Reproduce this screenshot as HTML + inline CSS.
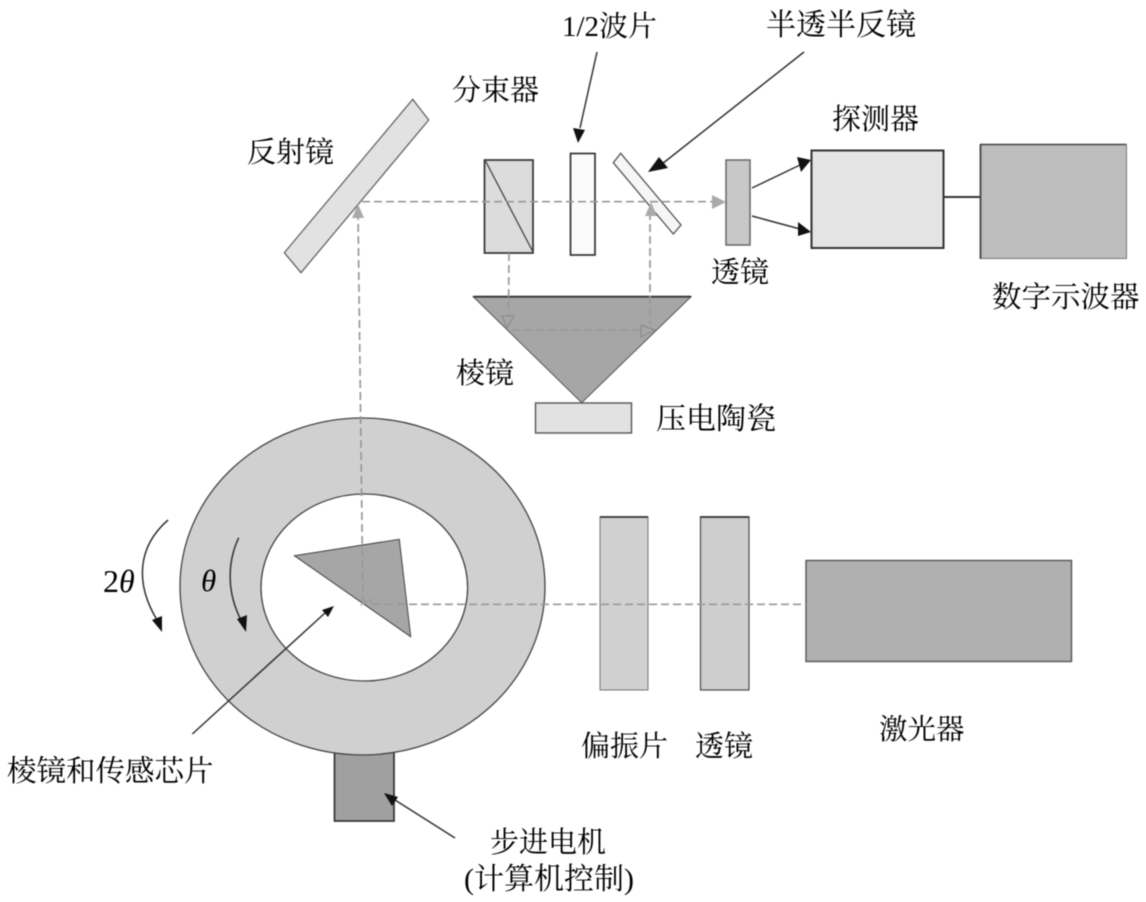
<!DOCTYPE html>
<html><head><meta charset="utf-8"><style>
html,body{margin:0;padding:0;background:#fff}
svg{display:block;filter:blur(0.6px)}
text{font-family:"Liberation Serif","Noto Serif CJK SC",serif;font-size:29px;fill:#000}
.l{font-size:30px}
.m{font-size:29.5px}
</style></head><body>
<svg width="1146" height="902" viewBox="0 0 1146 902" xmlns="http://www.w3.org/2000/svg">
<!-- top optics -->
<polygon points="412.7,99.3 428.7,120 301,272.7 284.3,252.7" fill="#e2e2e2" stroke="#666" stroke-width="1.3"/>
<rect x="484.5" y="160" width="48.5" height="93" fill="#dcdcdc" stroke="#333" stroke-width="1.7"/>
<line x1="485" y1="160" x2="533" y2="252" stroke="#444" stroke-width="1.3"/>
<rect x="570.5" y="153.5" width="24.5" height="101.5" fill="#fbfbfb" stroke="#333" stroke-width="1.7"/>
<polygon points="620.7,153.3 613.3,162.7 673.3,234 681,225" fill="#f6f6f6" stroke="#555" stroke-width="1.3"/>
<polygon points="473.3,296.7 691,296.7 581.7,402.7" fill="#a6a6a6" stroke="#555" stroke-width="1"/>
<line x1="473.3" y1="296.7" x2="691" y2="296.7" stroke="#333" stroke-width="1.8"/>
<rect x="535.5" y="403" width="96" height="30" fill="#e2e2e2" stroke="#555" stroke-width="1.4"/>
<rect x="726" y="160" width="24" height="85" fill="#c8c8c8" stroke="#666" stroke-width="1.5"/>
<rect x="811.5" y="150.5" width="132" height="97.5" fill="#e4e4e4" stroke="#333" stroke-width="2"/>
<line x1="943" y1="197" x2="980" y2="197" stroke="#333" stroke-width="2"/>
<rect x="980.5" y="144.5" width="146" height="114" fill="#bdbdbd" stroke="#777" stroke-width="1"/>
<line x1="980.5" y1="144" x2="980.5" y2="259" stroke="#444" stroke-width="1.8"/>
<line x1="980" y1="144.5" x2="1126" y2="144.5" stroke="#444" stroke-width="1.6"/>
<!-- rotation stage -->
<rect x="334.5" y="752" width="59.5" height="69" fill="#a0a0a0" stroke="#333" stroke-width="1.7"/>
<ellipse cx="362.5" cy="586.5" rx="182.5" ry="168.5" fill="#d0d0d0" stroke="#444" stroke-width="1.3"/>
<ellipse cx="364.3" cy="587.5" rx="103.3" ry="93.5" fill="#fff" stroke="#444" stroke-width="1.3"/>
<polygon points="294.3,555.7 399.3,539.3 410.7,636.7" fill="#a6a6a6" stroke="#444" stroke-width="1"/>
<!-- lower optics -->
<rect x="600" y="517" width="48" height="173" fill="#d0d0d0" stroke="#777" stroke-width="1"/>
<line x1="600" y1="517" x2="648" y2="517" stroke="#333" stroke-width="1.7"/>
<rect x="700.5" y="517" width="48.5" height="173" fill="#cecece" stroke="#555" stroke-width="1.3"/>
<line x1="700" y1="517" x2="749" y2="517" stroke="#333" stroke-width="1.7"/>
<rect x="806" y="560.5" width="265.5" height="101" fill="#b0b0b0" stroke="#555" stroke-width="1.4"/>
<!-- dashed beams -->
<g fill="none" stroke="#999" stroke-width="1.7" stroke-dasharray="8 4">
<line x1="362" y1="201.7" x2="715" y2="201.7"/>
<line x1="358" y1="212" x2="363" y2="604"/>
<line x1="373" y1="604.3" x2="806" y2="604.3"/>
<line x1="509" y1="253" x2="508.5" y2="318"/>
<line x1="650" y1="212" x2="650" y2="325"/>
<line x1="512" y1="330" x2="642" y2="330"/>
</g>
<polygon points="358,204 352,218 364,218" fill="#aaa"/>
<polygon points="651,202 645,216 657,216" fill="#aaa"/>
<polygon points="726,202 712,195 712,209" fill="#aaa"/>
<polygon points="507,328 502,316 514,316" fill="#a6a6a6" stroke="#888"/>
<polygon points="655,330 641,325 641,337" fill="#a6a6a6" stroke="#888"/>
<polyline points="361,606 363,600 367,602 371,599 372,604" fill="none" stroke="#999" stroke-width="1"/>
<!-- black arrows -->
<g stroke="#333" stroke-width="1.5" fill="none">
<line x1="597" y1="52" x2="580" y2="128"/>
<line x1="804" y1="52" x2="662" y2="164"/>
<line x1="752" y1="188" x2="800" y2="165"/>
<line x1="752" y1="216" x2="800" y2="229"/>
<line x1="192.3" y1="734" x2="325" y2="613"/>
<line x1="455" y1="838" x2="395" y2="800"/>
<path d="M168,520 C136,548 136,585 157,620"/>
<path d="M238.7,537.7 C226,565 228,595 241,620"/>
</g>
<g fill="#111">
<polygon points="578,143 573,128 585,130"/>
<polygon points="648,172 659,157 668,168"/>
<polygon points="811,160 797,157 801,172"/>
<polygon points="811,232 798,222 798,236"/>
<polygon points="334,606 322,610 328,617"/>
<polygon points="384,793 398,797 392,806"/>
<polygon points="162,632 152,620 162,616"/>
<polygon points="246,632 237,619 247,615"/>
</g>
<!-- labels -->
<text x="562" y="36">1/2波片</text>
<text x="766" y="35" class="l">半透半反镜</text>
<text x="452" y="100">分束器</text>
<text x="247" y="162">反射镜</text>
<text x="832" y="129">探测器</text>
<text x="711" y="282">透镜</text>
<text x="992" y="307" class="m">数字示波器</text>
<text x="456" y="383">棱镜</text>
<text x="656" y="429" class="l">压电陶瓷</text>
<text x="103" y="592" style="font-size:32px"><tspan>2</tspan><tspan style="font-style:italic">θ</tspan></text>
<text x="201" y="591" style="font-style:italic;font-size:31px">θ</text>
<text x="581" y="756">偏振片</text>
<text x="695" y="756">透镜</text>
<text x="879" y="739" style="font-size:28.5px">激光器</text>
<text x="7" y="781" class="m">棱镜和传感芯片</text>
<text x="490" y="852">步进电机</text>
<text x="464" y="889" style="font-size:30px">(计算机控制)</text>
</svg>
</body></html>
